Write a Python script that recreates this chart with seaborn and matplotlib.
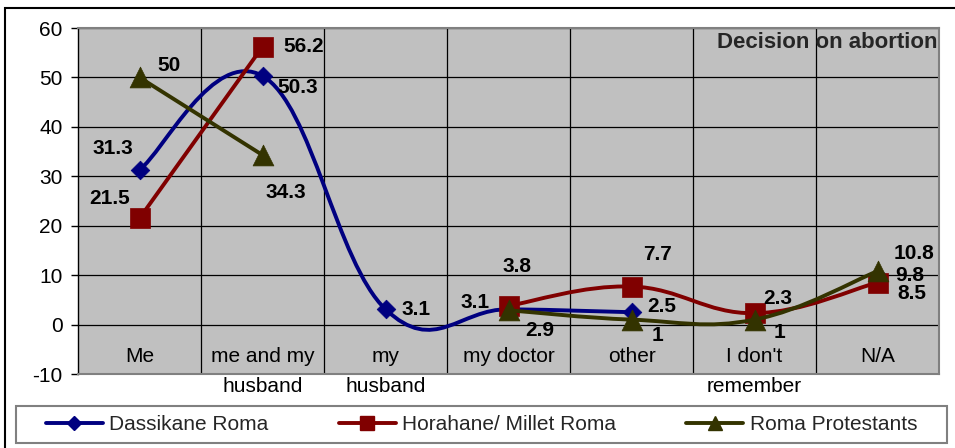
import numpy as np
import pandas as pd
import matplotlib
matplotlib.use("Agg")
import matplotlib.pyplot as plt
from matplotlib.path import Path
from matplotlib.patches import PathPatch, Rectangle
from matplotlib.lines import Line2D
import seaborn as sns

# --- data -----------------------------------------------------------------
categories = ["Me", "me and my\nhusband", "my\nhusband", "my doctor",
              "other", "I don't\nremember", "N/A"]
series_names = ["Dassikane Roma", "Horahane/ Millet Roma", "Roma Protestants"]
dassikane = [31.3, 50.3, 3.1, 3.1, 2.5, np.nan, 9.8]
horahane = [21.5, 56.2, np.nan, 3.8, 7.7, 2.3, 8.5]
protestants = [50.0, 34.3, np.nan, 2.9, 1.0, 1.0, 10.8]
y_ticks = [-10, 0, 10, 20, 30, 40, 50, 60]
title = "Decision on abortion"

# --- style ----------------------------------------------------------------
sns.set_theme(style="white")
plt.rcParams["font.family"] = ["Liberation Sans", "DejaVu Sans"]

W, H = 955, 448
fig = plt.figure(figsize=(W / 100, H / 100), dpi=100)
left, right, top, bottom = 78, 939, 28, 374
ax = fig.add_axes([left / W, 1 - bottom / H, (right - left) / W, (bottom - top) / H])
ax.set_facecolor("#C0C0C0")

colors = {"Dassikane Roma": "#000080",
          "Horahane/ Millet Roma": "#800000",
          "Roma Protestants": "#333300"}
markers = {"Dassikane Roma": "D", "Horahane/ Millet Roma": "s", "Roma Protestants": "^"}
msizes = {"Dassikane Roma": 9.5, "Horahane/ Millet Roma": 14.5, "Roma Protestants": 15}
line_w = 2.8

x = np.arange(len(categories))
values = {"Dassikane Roma": dassikane,
          "Horahane/ Millet Roma": horahane,
          "Roma Protestants": protestants}

df = pd.DataFrame([
    {"series": s, "pos": i, "value": v}
    for s in series_names for i, v in enumerate(values[s])
])


def smooth_path(xs, ys, k=1 / 5):
    """Cubic Bezier path through the points (Catmull-Rom style smoothing)."""
    pts = np.column_stack([xs, ys])
    n = len(pts)
    verts = [tuple(pts[0])]
    codes = [Path.MOVETO]
    for i in range(n - 1):
        p0 = pts[max(i - 1, 0)]
        p1 = pts[i]
        p2 = pts[i + 1]
        p3 = pts[min(i + 2, n - 1)]
        c1 = p1 + (p2 - p0) * k
        c2 = p2 - (p3 - p1) * k
        verts += [tuple(c1), tuple(c2), tuple(p2)]
        codes += [Path.CURVE4] * 3
    return Path(verts, codes)


z = 3
for s in series_names:
    sub = df[df.series == s]
    vals = sub["value"].to_numpy()
    pos = sub["pos"].to_numpy()
    # split the series into runs of consecutive values
    runs, cur = [], []
    for p, v in zip(pos, vals):
        if np.isnan(v):
            if cur:
                runs.append(cur)
            cur = []
        else:
            cur.append((p, v))
    if cur:
        runs.append(cur)
    for run in runs:
        if len(run) < 2:
            continue
        rx, ry = zip(*run)
        ax.add_patch(PathPatch(smooth_path(np.array(rx, float), np.array(ry, float)),
                               fill=False, edgecolor=colors[s], lw=line_w,
                               capstyle="round", joinstyle="round", zorder=z))
    sns.scatterplot(data=sub.dropna(), x="pos", y="value", ax=ax,
                    marker=markers[s], s=msizes[s] ** 2, color=colors[s],
                    edgecolor=colors[s], linewidth=0.5, zorder=z + 1, legend=False)
    z += 2

# --- data labels (offsets in pixels) --------------------------------------
label_offsets = {
    "Dassikane Roma": [(-27, 21), (35, -12), (31, 0), (-33, 7), (30, 6), None, (32, 1)],
    "Horahane/ Millet Roma": [(-30, 20), (41, 0), None, (8, 39), (26, 32), (23, 15), (34, -11)],
    "Roma Protestants": [(30, 12), (23, -37), None, (31, -20), (26, -16), (25, -13), (36, 18)],
}
for s in series_names:
    for i, v in enumerate(values[s]):
        off = label_offsets[s][i]
        if off is None or np.isnan(v):
            continue
        ax.annotate(f"{v:g}", (i, v), xytext=(off[0] * 0.72, off[1] * 0.72),
                    textcoords="offset points", ha="center", va="center",
                    fontsize=15, fontweight="bold", color="black", zorder=20)

# --- axes ------------------------------------------------------------------
ax.set_xlim(-0.5, len(categories) - 0.5)
ax.set_ylim(-10, 60)
ax.set_yticks(y_ticks)
ax.set_yticklabels([str(t) for t in y_ticks], fontsize=15)
ax.set_xticks([])
ax.set_xticks(np.arange(len(categories) - 1) + 0.5, minor=True)
ax.tick_params(axis="x", which="both", length=0)
ax.tick_params(axis="y", which="major", left=True, length=5, width=1,
               color="black", pad=6, labelcolor="black")
ax.grid(True, which="major", axis="y", color="black", lw=0.9, zorder=1)
ax.grid(True, which="minor", axis="x", color="black", lw=0.9, zorder=1)
ax.set_axisbelow(True)
ax.set_xlabel("")
ax.set_ylabel("")
for side in ["top", "right", "bottom"]:
    ax.spines[side].set_color("#808080")
    ax.spines[side].set_linewidth(1.5)
ax.spines["left"].set_color("black")
ax.spines["left"].set_linewidth(1.0)

# category labels sit just below the zero line
for i, cat in enumerate(categories):
    for j, line in enumerate(cat.split("\n")):
        ax.annotate(line, (i, 0), xytext=(0, (-32 - 30 * j) * 0.72),
                    textcoords="offset points", ha="center", va="center",
                    fontsize=15, color="black", annotation_clip=False)

ax.text(0.998, (bottom - 42) / (bottom - top), title, transform=ax.transAxes,
        ha="right", va="center", fontsize=16, fontweight="bold", zorder=20)

# --- legend ----------------------------------------------------------------
handles = [Line2D([], [], color=colors[s], lw=line_w, marker=markers[s],
                  markersize={"Dassikane Roma": 7.5, "Horahane/ Millet Roma": 9.5,
                              "Roma Protestants": 10.5}[s],
                  markeredgecolor=colors[s])
           for s in series_names]
fig.legend(handles, series_names, loc="center", bbox_to_anchor=(481.5 / W, 1 - 424.5 / H),
           ncol=3, frameon=False, fontsize=15, handlelength=2.74,
           handletextpad=0.3, columnspacing=3.37, borderpad=0, borderaxespad=0)
fig.add_artist(Rectangle((16 / W, 1 - 443 / H), (947 - 16) / W, 37 / H,
                         transform=fig.transFigure, fill=False,
                         edgecolor="#808080", lw=1.5))
# outer chart frame
fig.add_artist(Rectangle((5 / W, -0.2), 1.5, (1 - 8 / H) + 0.2,
                         transform=fig.transFigure, fill=False,
                         edgecolor="black", lw=1.5))

fig.savefig("out.png", dpi=100, facecolor="white")
